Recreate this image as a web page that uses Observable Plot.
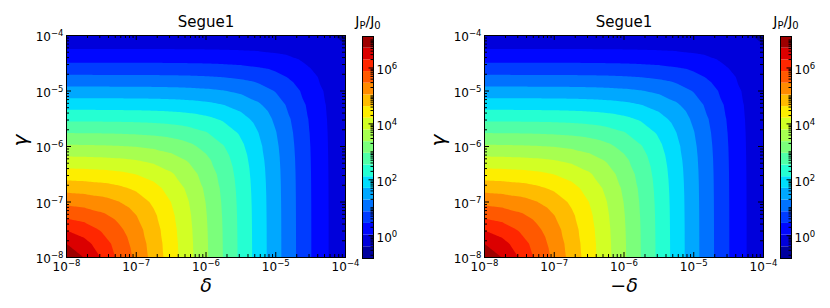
<!DOCTYPE html>
<html><head><meta charset="utf-8">
<script src="https://cdn.jsdelivr.net/npm/d3@7"></script>
<script src="https://cdn.jsdelivr.net/npm/@observablehq/plot@0.6"></script>
<style>
body{margin:0;background:#fff;font-family:"DejaVu Sans",sans-serif}
#root{position:relative;width:830px;height:308px;overflow:hidden;background:#fff}
#root svg{position:absolute;top:0}
</style></head><body><div id="root"></div>
<script>
// ---- data ----
const panelTitles = ["Segue1", "Segue1"];
const xLabels = ["δ", "−δ"];
const yLabel = "γ";
// log10 of delta (columns) and gamma (rows) sample positions
const deltaExp = [-8, -7.75, -7.5, -7.25, -7, -6.75, -6.5, -6.25, -6, -5.75, -5.5, -5.25, -5, -4.75, -4.5, -4.25, -4];
const gammaExp = [-8, -7.75, -7.5, -7.25, -7, -6.75, -6.5, -6.25, -6, -5.75, -5.5, -5.25, -5, -4.75, -4.5, -4.25, -4];
// log10(Jp/J0), rows = gamma (bottom to top), cols = delta
const logJ = [
 [7.08, 6.703, 6.271, 5.793, 5.352, 4.887, 4.408, 3.920, 3.426, 2.930, 2.432, 1.933, 1.434, 0.935, 0.455, 0.030, -0.300],
 [6.703, 6.438, 6.090, 5.696, 5.293, 4.852, 4.387, 3.908, 3.420, 2.926, 2.430, 1.932, 1.433, 0.934, 0.455, 0.030, -0.300],
 [6.271, 6.090, 5.833, 5.548, 5.196, 4.793, 4.352, 3.887, 3.408, 2.920, 2.426, 1.930, 1.432, 0.933, 0.455, 0.030, -0.300],
 [5.793, 5.696, 5.548, 5.333, 5.048, 4.696, 4.293, 3.852, 3.387, 2.908, 2.420, 1.926, 1.430, 0.932, 0.454, 0.030, -0.300],
 [5.352, 5.293, 5.196, 5.048, 4.833, 4.548, 4.196, 3.793, 3.352, 2.887, 2.408, 1.920, 1.426, 0.930, 0.453, 0.029, -0.300],
 [4.887, 4.852, 4.793, 4.696, 4.548, 4.333, 4.048, 3.696, 3.293, 2.852, 2.387, 1.908, 1.420, 0.926, 0.451, 0.028, -0.301],
 [4.408, 4.387, 4.352, 4.293, 4.196, 4.048, 3.833, 3.548, 3.196, 2.793, 2.352, 1.887, 1.408, 0.920, 0.448, 0.026, -0.302],
 [3.920, 3.908, 3.887, 3.852, 3.793, 3.696, 3.548, 3.333, 3.048, 2.696, 2.293, 1.852, 1.387, 0.908, 0.441, 0.023, -0.304],
 [3.426, 3.420, 3.408, 3.387, 3.352, 3.293, 3.196, 3.048, 2.833, 2.548, 2.196, 1.793, 1.352, 0.887, 0.431, 0.018, -0.307],
 [2.930, 2.926, 2.920, 2.908, 2.887, 2.852, 2.793, 2.696, 2.548, 2.333, 2.048, 1.696, 1.293, 0.852, 0.412, 0.010, -0.311],
 [2.432, 2.430, 2.426, 2.420, 2.408, 2.387, 2.352, 2.293, 2.196, 2.048, 1.833, 1.548, 1.196, 0.795, 0.383, -0.004, -0.316],
 [1.933, 1.932, 1.930, 1.926, 1.920, 1.908, 1.887, 1.852, 1.793, 1.696, 1.548, 1.333, 1.048, 0.704, 0.333, -0.026, -0.322],
 [1.434, 1.433, 1.432, 1.430, 1.426, 1.420, 1.408, 1.387, 1.352, 1.293, 1.196, 1.048, 0.833, 0.561, 0.252, -0.065, -0.330],
 [0.935, 0.934, 0.933, 0.932, 0.930, 0.926, 0.920, 0.908, 0.887, 0.852, 0.795, 0.704, 0.561, 0.367, 0.125, -0.128, -0.340],
 [0.455, 0.455, 0.455, 0.454, 0.453, 0.451, 0.448, 0.441, 0.431, 0.412, 0.383, 0.333, 0.252, 0.125, -0.039, -0.226, -0.352],
 [0.030, 0.030, 0.030, 0.030, 0.029, 0.028, 0.026, 0.023, 0.018, 0.010, -0.004, -0.026, -0.065, -0.128, -0.226, -0.300, -0.370],
 [-0.300, -0.300, -0.300, -0.300, -0.300, -0.301, -0.302, -0.304, -0.307, -0.311, -0.316, -0.322, -0.330, -0.340, -0.352, -0.370, -0.450]
];
// contour levels (log10 Jp/J0)
const levels = [-0.816, -0.398, 0.020, 0.438, 0.856, 1.274, 1.692, 2.110, 2.528, 2.946, 3.364, 3.782, 4.200, 4.618, 5.036, 5.454, 5.872, 6.290, 6.708, 7.126];
// axis ticks
const axisExp = [-8, -7, -6, -5, -4];
const minorMult = [2, 3, 4, 5, 6, 7, 8, 9];
const cbarLabelExp = [0, 2, 4, 6];

// ---- helpers ----
const powLabel = e => "10|" + String(e).replace("-", "\u2212");
function jet(t) {
  const seg = (xs, ys) => { for (let i = 1; i < xs.length; i++) if (t <= xs[i]) { const f = (t - xs[i-1]) / (xs[i] - xs[i-1]); return ys[i-1] + f * (ys[i] - ys[i-1]); } return ys[ys.length-1]; };
  const r = seg([0, 0.35, 0.66, 0.89, 1], [0, 0, 1, 1, 0.5]);
  const g = seg([0, 0.125, 0.375, 0.64, 0.91, 1], [0, 0, 1, 1, 0, 0]);
  const b = seg([0, 0.11, 0.34, 0.65, 1], [0.5, 1, 1, 0, 0]);
  return d3.rgb(r * 255, g * 255, b * 255).formatHex();
}
// turn "10|-4" labels into 10 with a raised exponent
function superscripts(svg) {
  d3.select(svg).selectAll("text").each(function () {
    const s = this.textContent;
    if (!s.includes("|")) return;
    const [base, exp] = s.split("|");
    this.textContent = "";
    const t = d3.select(this);
    t.append("tspan").text(base);
    t.append("tspan").attr("dy", -5).attr("font-size", 8.5).text(exp);
  });
}
const nBands = levels.length - 1;
const bandColors = d3.range(nBands).map(k => jet((k + 0.5) / nBands));
const colorScale = {type: "threshold", domain: levels.slice(1, nBands), range: bandColors};

const grid = gammaExp.flatMap((b, j) => deltaExp.map((a, i) => ({delta: 10 ** a, gamma: 10 ** b, logJ: logJ[j][i]})));
const majorT = axisExp.map(e => 10 ** e);
const minorT = axisExp.slice(0, -1).flatMap(e => minorMult.map(k => k * 10 ** e));
const fmtAxis = d => powLabel(Math.round(Math.log10(d)));

const W = 279, H = 222;
const baseStyle = {fontFamily: "DejaVu Sans, sans-serif", fontSize: "12px", background: "transparent", color: "#000", overflow: "visible"};

function panel(idx) {
  const svg = Plot.plot({
    width: 415, height: 308, marginLeft: 66, marginRight: 70, marginTop: 35, marginBottom: 51,
    x: {type: "log", domain: [1e-8, 1e-4]},
    y: {type: "log", domain: [1e-8, 1e-4]},
    color: colorScale,
    style: baseStyle,
    marks: [
      Plot.frame({fill: bandColors[0]}),
      Plot.contour(grid, {x: "delta", y: "gamma", fill: "logJ", thresholds: levels.slice(0, nBands), interpolate: "barycentric", pixelSize: 1, stroke: "none"}),
      Plot.tickX(majorT, {x: d => d, insetTop: H - 5, stroke: "#000"}),
      Plot.tickX(majorT, {x: d => d, insetBottom: H - 5, stroke: "#000"}),
      Plot.tickX(minorT, {x: d => d, insetTop: H - 3, stroke: "#000"}),
      Plot.tickX(minorT, {x: d => d, insetBottom: H - 3, stroke: "#000"}),
      Plot.tickY(majorT, {y: d => d, insetRight: W - 5, stroke: "#000"}),
      Plot.tickY(majorT, {y: d => d, insetLeft: W - 5, stroke: "#000"}),
      Plot.tickY(minorT, {y: d => d, insetRight: W - 3, stroke: "#000"}),
      Plot.tickY(minorT, {y: d => d, insetLeft: W - 3, stroke: "#000"}),
      Plot.frame({stroke: "#000"}),
      Plot.axisX(majorT, {tickSize: 0, tickPadding: 5, tickFormat: fmtAxis, label: null}),
      Plot.axisY(majorT, {tickSize: 0, tickPadding: 3, dy: 2, tickFormat: fmtAxis, label: null}),
      Plot.text([panelTitles[idx]], {frameAnchor: "top", lineAnchor: "bottom", dy: -9, fontSize: 15}),
      Plot.text([xLabels[idx]], {frameAnchor: "bottom", lineAnchor: "bottom", dy: 34, fontSize: 19, fontStyle: "italic"}),
      Plot.text([yLabel], {frameAnchor: "left", dx: -46, rotate: -90, fontSize: 20, fontStyle: "italic"})
    ]
  });
  superscripts(svg);
  svg.style.left = (idx * 418) + "px";
  return svg;
}

const cbMinor = [];
for (let n = -1; n <= 7; n++) for (let k = 1; k <= 9; k++) {
  const v = n + Math.log10(k);
  if (v > levels[0] && v < levels[nBands] && !(k === 1 && cbarLabelExp.includes(n))) cbMinor.push(v);
}

function colorbar(idx) {
  const CW = 11;
  const svg = Plot.plot({
    width: 90, height: 308, marginLeft: 32, marginRight: 47, marginTop: 36, marginBottom: 50,
    x: {domain: [0, 1], axis: null},
    y: {domain: [levels[0], levels[nBands]]},
    color: colorScale,
    style: baseStyle,
    marks: [
      Plot.rect(d3.range(nBands), {x1: 0, x2: 1, y1: k => levels[k], y2: k => levels[k + 1], fill: k => levels[k]}),
      Plot.tickY(cbMinor, {y: d => d, insetLeft: CW - 2.5, stroke: "#000"}),
      Plot.tickY(cbarLabelExp, {y: d => d, insetLeft: CW - 4.5, stroke: "#000"}),
      Plot.frame({stroke: "#000"}),
      Plot.axisY(cbarLabelExp, {anchor: "right", tickSize: 0, tickPadding: 3, dy: 2, tickFormat: powLabel, label: null})
    ]
  });
  superscripts(svg);
  svg.style.left = (330 + idx * 418) + "px";
  const t = d3.select(svg).append("text").attr("x", 38).attr("y", 26).attr("text-anchor", "middle").attr("font-size", 14).attr("fill", "#000");
  t.append("tspan").text("J");
  t.append("tspan").attr("dy", 3).attr("font-size", 10).text("P");
  t.append("tspan").attr("dy", -3).text("/J");
  t.append("tspan").attr("dy", 3).attr("font-size", 10).text("0");
  return svg;
}

const root = document.getElementById("root");
root.append(panel(0), panel(1), colorbar(0), colorbar(1));
</script></body></html>
